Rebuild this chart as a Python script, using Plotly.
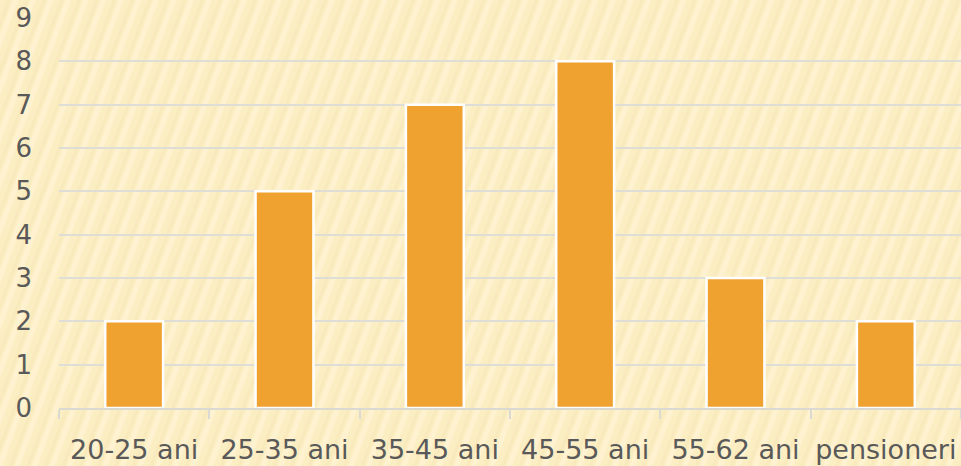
import base64
import plotly.graph_objects as go

categories = ["20-25 ani", "25-35 ani", "35-45 ani", "45-55 ani", "55-62 ani", "pensioneri"]
values = [2, 5, 7, 8, 3, 2]
y_ticks = list(range(0, 10))

# decorative diagonal stripe background
svg = (
    '<svg xmlns="http://www.w3.org/2000/svg" width="961" height="466">'
    '<defs><pattern id="p" width="16" height="40" patternUnits="userSpaceOnUse" '
    'patternTransform="rotate(20)">'
    '<rect width="16" height="40" fill="#FCEEC3"/>'
    '<rect x="0" width="5" height="40" fill="#FEF2D0"/>'
    '<rect x="11" width="3" height="40" fill="#F9EABD"/>'
    '</pattern></defs>'
    '<rect width="961" height="466" fill="url(#p)"/>'
    '</svg>'
)
uri = "data:image/svg+xml;base64," + base64.b64encode(svg.encode()).decode()

fig = go.Figure(
    go.Bar(
        x=categories,
        y=values,
        marker=dict(color="#EFA230", line=dict(color="#FFFFFF", width=2.5)),
    )
)

fig.update_layout(
    width=961,
    height=466,
    margin=dict(l=59, r=0, t=18, b=58),
    paper_bgcolor="#FCEFC4",
    plot_bgcolor="rgba(0,0,0,0)",
    bargap=0.615,
    showlegend=False,
    font=dict(family="DejaVu Sans, Verdana, sans-serif", color="#595959", size=27),
    images=[dict(source=uri, xref="paper", yref="paper", x=-0.07, y=1.05,
                 sizex=1.1, sizey=1.2, sizing="stretch", layer="below",
                 xanchor="left", yanchor="top")],
)

fig.update_yaxes(
    range=[0, 9],
    tickvals=y_ticks,
    showgrid=True,
    gridcolor="#DEDDD6",
    gridwidth=1.5,
    zeroline=False,
    showline=False,
    ticks="",
    automargin=False,
    ticklabeloverflow="allow",
    ticklabelstandoff=26,
    tickfont=dict(family="DejaVu Sans, Verdana, sans-serif", size=26, color="#595959"),
)
fig.update_xaxes(
    showline=True,
    linecolor="#DAD9D2",
    linewidth=1.5,
    ticks="outside",
    tickson="boundaries",
    ticklen=9,
    tickcolor="#DAD9D2",
    tickwidth=1.5,
    automargin=False,
    tickangle=0,
    ticklabeloverflow="allow",
    ticklabelstandoff=17,
    tickfont=dict(family="DejaVu Sans, Verdana, sans-serif", size=27, color="#595959"),
    range=[-0.5, 5.5],
)

fig.write_html(
    "out.html",
    config={"displayModeBar": False},
    post_script="document.body.style.margin='0';document.body.style.overflow='hidden';",
)
